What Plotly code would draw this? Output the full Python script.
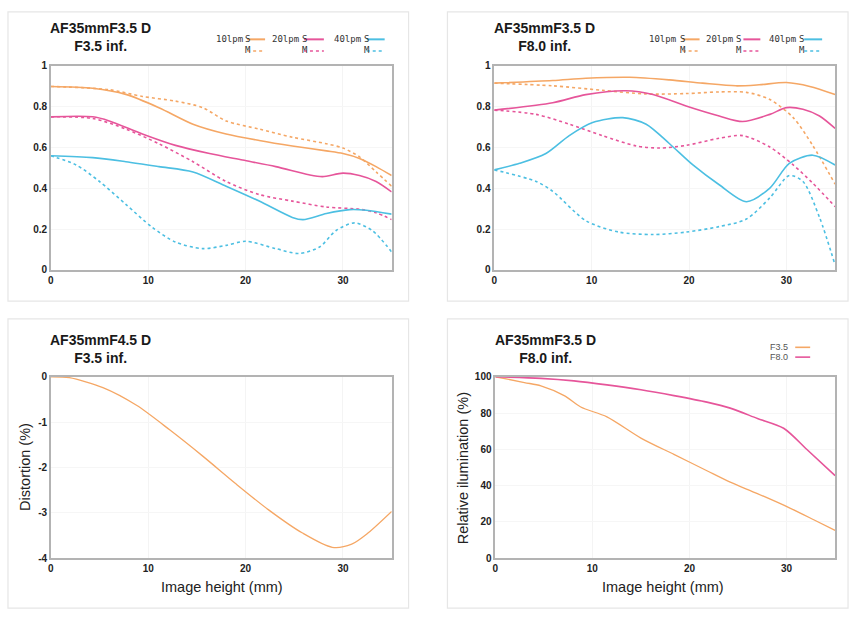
import plotly.graph_objects as go

# ---------------- data ----------------
# MTF F3.5 (x = image height mm)
mtf1_10s_x = [0, 4.3, 7.7, 11.1, 14.6, 18, 21.4, 24.8, 28.3, 30, 31.7, 33.4, 35]
mtf1_10s_y = [0.899, 0.89, 0.86, 0.795, 0.714, 0.666, 0.634, 0.607, 0.583, 0.57, 0.546, 0.506, 0.462]
mtf1_10m_x = [0, 6, 9.4, 12.8, 15.6, 18, 21.4, 24.8, 28.3, 30, 31.7, 33.4, 35]
mtf1_10m_y = [0.899, 0.883, 0.85, 0.827, 0.795, 0.73, 0.69, 0.65, 0.618, 0.597, 0.554, 0.48, 0.41]
mtf1_20s_x = [0, 4.3, 6, 9.4, 12.8, 16.3, 19.7, 23.1, 26.5, 27.9, 30, 31.7, 33.4, 35]
mtf1_20s_y = [0.75, 0.75, 0.73, 0.666, 0.61, 0.57, 0.538, 0.506, 0.466, 0.457, 0.474, 0.462, 0.433, 0.382]
mtf1_20m_x = [0, 4.3, 7.7, 11.1, 14.6, 18, 21.4, 24.8, 28.3, 31.7, 33.4, 35]
mtf1_20m_y = [0.75, 0.742, 0.69, 0.618, 0.53, 0.433, 0.369, 0.337, 0.308, 0.297, 0.28, 0.246]
mtf1_40s_x = [0, 4.3, 7.7, 11.1, 14.6, 18, 21.4, 24.8, 25.9, 28.3, 30.7, 32.4, 35]
mtf1_40s_y = [0.559, 0.55, 0.53, 0.506, 0.48, 0.41, 0.337, 0.257, 0.246, 0.276, 0.295, 0.292, 0.273]
mtf1_40m_x = [0, 2.6, 5, 7.7, 10.4, 12.8, 15.6, 18, 20, 23.1, 25.5, 27.6, 29.3, 31.2, 33, 35]
mtf1_40m_y = [0.559, 0.514, 0.433, 0.321, 0.209, 0.136, 0.104, 0.12, 0.14, 0.104, 0.08, 0.112, 0.193, 0.23, 0.193, 0.088]

# MTF F8.0
mtf2_10s_x = [0, 6, 9.4, 13.9, 18, 21.4, 24.8, 27.2, 30, 32.4, 35]
mtf2_10s_y = [0.915, 0.928, 0.939, 0.944, 0.931, 0.915, 0.902, 0.907, 0.918, 0.899, 0.859]
mtf2_10m_x = [0, 6, 11.1, 15.6, 19.7, 23.1, 25.9, 28.3, 30.7, 32.7, 35]
mtf2_10m_y = [0.915, 0.902, 0.88, 0.862, 0.864, 0.872, 0.87, 0.835, 0.746, 0.61, 0.42]
mtf2_20s_x = [0, 6, 9.4, 13.5, 16.3, 19.7, 23.1, 25.5, 28.3, 30, 31.7, 33.4, 35]
mtf2_20s_y = [0.783, 0.819, 0.859, 0.878, 0.859, 0.803, 0.754, 0.727, 0.762, 0.795, 0.787, 0.754, 0.693]
mtf2_20m_x = [0, 4.3, 7.7, 11.1, 14.6, 17, 19.7, 23.1, 25.5, 28.3, 30.7, 32.7, 35]
mtf2_20m_y = [0.783, 0.762, 0.714, 0.658, 0.607, 0.597, 0.61, 0.645, 0.658, 0.602, 0.514, 0.425, 0.31]
mtf2_40s_x = [0, 2.6, 5.3, 7.7, 10.1, 13.2, 15.6, 18, 20.4, 23.1, 25.9, 28.3, 30.3, 32.7, 35]
mtf2_40s_y = [0.49, 0.522, 0.57, 0.658, 0.722, 0.746, 0.714, 0.618, 0.514, 0.417, 0.334, 0.401, 0.522, 0.562, 0.514]
mtf2_40m_x = [0, 4.3, 6, 9.4, 12.8, 16.3, 19.7, 23.1, 25.9, 28.3, 30.3, 31.7, 33.4, 35]
mtf2_40m_y = [0.49, 0.433, 0.385, 0.241, 0.185, 0.173, 0.185, 0.212, 0.249, 0.353, 0.462, 0.433, 0.257, 0.024]

# Distortion
dist_x = [0, 1.9, 5.35, 8.8, 12.2, 15.6, 19, 22.4, 25.8, 28.9, 30.9, 32.6, 35]
dist_y = [0, -0.02, -0.24, -0.63, -1.17, -1.75, -2.36, -2.94, -3.44, -3.76, -3.69, -3.44, -2.97]

# Relative illumination
ri_f80_x = [0, 4.7, 8.1, 11.5, 15, 18.4, 21.8, 24.2, 27, 29.7, 32.1, 35]
ri_f80_y = [100, 99.1, 97.7, 95.5, 92.8, 89.6, 86, 82.7, 77, 71.6, 59.9, 45.5]
ri_f35_x = [0, 3, 4.7, 7.1, 8.8, 11.5, 15, 18.4, 21.8, 24.2, 27, 30.4, 32.8, 35]
ri_f35_y = [100, 96.8, 95, 89.6, 83.3, 77.9, 66.2, 57.2, 48.2, 41.9, 35.6, 27.5, 21.2, 15.3]

x_ticks = [0, 10, 20, 30]
mtf_ticks = [0, 0.2, 0.4, 0.6, 0.8, 1]
mtf_tick_text = ["0", "0.2", "0.4", "0.6", "0.8", "1"]
dist_ticks = [0, -1, -2, -3, -4]
ri_ticks = [0, 20, 40, 60, 80, 100]

titles = ["AF35mmF3.5 D<br>F3.5 inf.", "AF35mmF3.5 D<br>F8.0 inf.",
          "AF35mmF4.5 D<br>F3.5 inf.", "AF35mmF3.5 D<br>F8.0 inf."]

# ---------------- styling ----------------
W, H = 859, 625
ORANGE = "#f5a765"
PINK = "#e6559a"
BLUE = "#4cbfe2"
FRAME = "#b3b3b3"
PANEL = "#e6e6e6"
SANS = "Liberation Sans, Arial, sans-serif"


def px(x):
    return x / W


def py(y):
    return 1 - y / H


fig = go.Figure()


def add_line(x, y, color, dash, xa, ya, width=1.6):
    fig.add_trace(go.Scatter(x=x, y=y, mode="lines", xaxis=xa, yaxis=ya,
                             line=dict(color=color, width=width, dash=dash, shape="spline", smoothing=0.8),
                             showlegend=False, hoverinfo="skip"))


add_line(mtf1_10m_x, mtf1_10m_y, ORANGE, "dot", "x", "y")
add_line(mtf1_20m_x, mtf1_20m_y, PINK, "dot", "x", "y")
add_line(mtf1_40m_x, mtf1_40m_y, BLUE, "dot", "x", "y")
add_line(mtf1_10s_x, mtf1_10s_y, ORANGE, "solid", "x", "y")
add_line(mtf1_20s_x, mtf1_20s_y, PINK, "solid", "x", "y")
add_line(mtf1_40s_x, mtf1_40s_y, BLUE, "solid", "x", "y")

add_line(mtf2_10m_x, mtf2_10m_y, ORANGE, "dot", "x2", "y2")
add_line(mtf2_20m_x, mtf2_20m_y, PINK, "dot", "x2", "y2")
add_line(mtf2_40m_x, mtf2_40m_y, BLUE, "dot", "x2", "y2")
add_line(mtf2_10s_x, mtf2_10s_y, ORANGE, "solid", "x2", "y2")
add_line(mtf2_20s_x, mtf2_20s_y, PINK, "solid", "x2", "y2")
add_line(mtf2_40s_x, mtf2_40s_y, BLUE, "solid", "x2", "y2")

add_line(dist_x, dist_y, ORANGE, "solid", "x3", "y3", 1.3)

add_line(ri_f35_x, ri_f35_y, ORANGE, "solid", "x4", "y4", 1.3)
add_line(ri_f80_x, ri_f80_y, PINK, "solid", "x4", "y4", 1.6)

# plot area pixel boxes (left, right, top, bottom)
boxes = [(48, 390, 61, 269), (493, 835, 61, 269), (48, 390, 378, 563), (494, 835, 378, 563)]
yranges = [[0, 1], [0, 1], [-4, 0], [0, 100]]
yticks = [(mtf_ticks, mtf_tick_text), (mtf_ticks, mtf_tick_text),
          (dist_ticks, [str(v) for v in dist_ticks]), (ri_ticks, [str(v) for v in ri_ticks])]

layout = {}
for i, (l, r, t, b) in enumerate(boxes):
    sfx = "" if i == 0 else str(i + 1)
    layout["xaxis" + sfx] = dict(
        domain=[px(l), px(r)], range=[0, 35], anchor="y" + sfx,
        tickvals=x_ticks, ticks="", showline=True, linecolor=FRAME, linewidth=1.5, mirror=True,
        showgrid=True, gridcolor="#f4f4f4", gridwidth=1, zeroline=False,
        tickfont=dict(family=SANS, size=10, color="#222", weight="bold"), fixedrange=True)
    layout["yaxis" + sfx] = dict(
        domain=[py(b), py(t)], range=yranges[i], anchor="x" + sfx,
        tickvals=yticks[i][0], ticktext=yticks[i][1], ticks="",
        showline=True, linecolor=FRAME, linewidth=1.5, mirror=True,
        showgrid=True, gridcolor="#f6f6f6", gridwidth=1, zeroline=False,
        tickfont=dict(family=SANS, size=10, color="#222", weight="bold"), fixedrange=True)

shapes = []
# panel boxes
for (x0, x1, y0, y1) in [(5, 407, 6, 301), (446, 848, 6, 301), (5, 407, 319, 614), (446, 848, 319, 614)]:
    shapes.append(dict(type="rect", xref="paper", yref="paper", x0=px(x0), x1=px(x1), y0=py(y1), y1=py(y0),
                       line=dict(color=PANEL, width=1.2), layer="below"))

annotations = []
title_pos = [(98, 32), (543, 32), (98, 350), (544, 350)]
for (tx, ty), txt in zip(title_pos, titles):
    annotations.append(dict(text="<b>" + txt + "</b>", x=px(tx), y=py(ty), xref="paper", yref="paper",
                            showarrow=False, align="center", xanchor="center", yanchor="middle",
                            font=dict(family=SANS, size=14, color="#1a1a1a")))

# MTF legends
LEGF = dict(family="DejaVu Sans Mono, Liberation Mono, monospace", size=9, color="#333")
leg_sets = [
    [(212, 241, 245, 263, "10lpm", ORANGE), (268, 298, 302, 322, "20lpm", PINK), (330, 360, 365, 383, "40lpm", BLUE)],
    [(646, 677, 682, 699, "10lpm", ORANGE), (703, 734, 743, 760, "20lpm", PINK), (767, 797, 804, 822, "40lpm", BLUE)],
]
for lset in leg_sets:
    for (tx, sx, l0, l1, lab, col) in lset:
        annotations.append(dict(text=lab, x=px(tx), y=py(34), xref="paper", yref="paper", showarrow=False,
                                xanchor="left", yanchor="middle", font=LEGF))
        annotations.append(dict(text="S", x=px(sx), y=py(34), xref="paper", yref="paper", showarrow=False,
                                xanchor="left", yanchor="middle", font=LEGF))
        annotations.append(dict(text="M", x=px(sx), y=py(45), xref="paper", yref="paper", showarrow=False,
                                xanchor="left", yanchor="middle", font=LEGF))
        shapes.append(dict(type="line", xref="paper", yref="paper", x0=px(l0), x1=px(l1), y0=py(34), y1=py(34),
                           line=dict(color=col, width=2)))
        shapes.append(dict(type="line", xref="paper", yref="paper", x0=px(l0), x1=px(l1), y0=py(46), y1=py(46),
                           line=dict(color=col, width=1.5, dash="dot")))

# RI legend
for (lab, col, yy) in [("F3.5", ORANGE, 348), ("F8.0", PINK, 358)]:
    annotations.append(dict(text=lab, x=px(790), y=py(yy), xref="paper", yref="paper", showarrow=False,
                            xanchor="right", yanchor="middle",
                            font=dict(family=SANS, size=9, color="#555")))
    shapes.append(dict(type="line", xref="paper", yref="paper", x0=px(795), x1=px(810), y0=py(yy), y1=py(yy),
                       line=dict(color=col, width=1.6)))

# axis titles
AXF = dict(family=SANS, size=14.5, color="#222")
annotations.append(dict(text="Image height (mm)", x=px(220), y=py(592), xref="paper", yref="paper",
                        showarrow=False, xanchor="center", yanchor="middle", font=AXF))
annotations.append(dict(text="Image height (mm)", x=px(662), y=py(592), xref="paper", yref="paper",
                        showarrow=False, xanchor="center", yanchor="middle", font=AXF))
annotations.append(dict(text="Distortion (%)", x=px(22), y=py(470), xref="paper", yref="paper",
                        showarrow=False, xanchor="center", yanchor="middle", textangle=-90, font=AXF))
annotations.append(dict(text="Relative ilumination (%)", x=px(462), y=py(471), xref="paper", yref="paper",
                        showarrow=False, xanchor="center", yanchor="middle", textangle=-90, font=AXF))

fig.update_layout(
    width=W, height=H, margin=dict(l=0, r=0, t=0, b=0),
    paper_bgcolor="white", plot_bgcolor="white",
    shapes=shapes, annotations=annotations, showlegend=False,
    **layout)

fig.write_html("out.html", config={"displayModeBar": False},
               post_script="document.body.style.margin='0';document.body.style.padding='0';")
